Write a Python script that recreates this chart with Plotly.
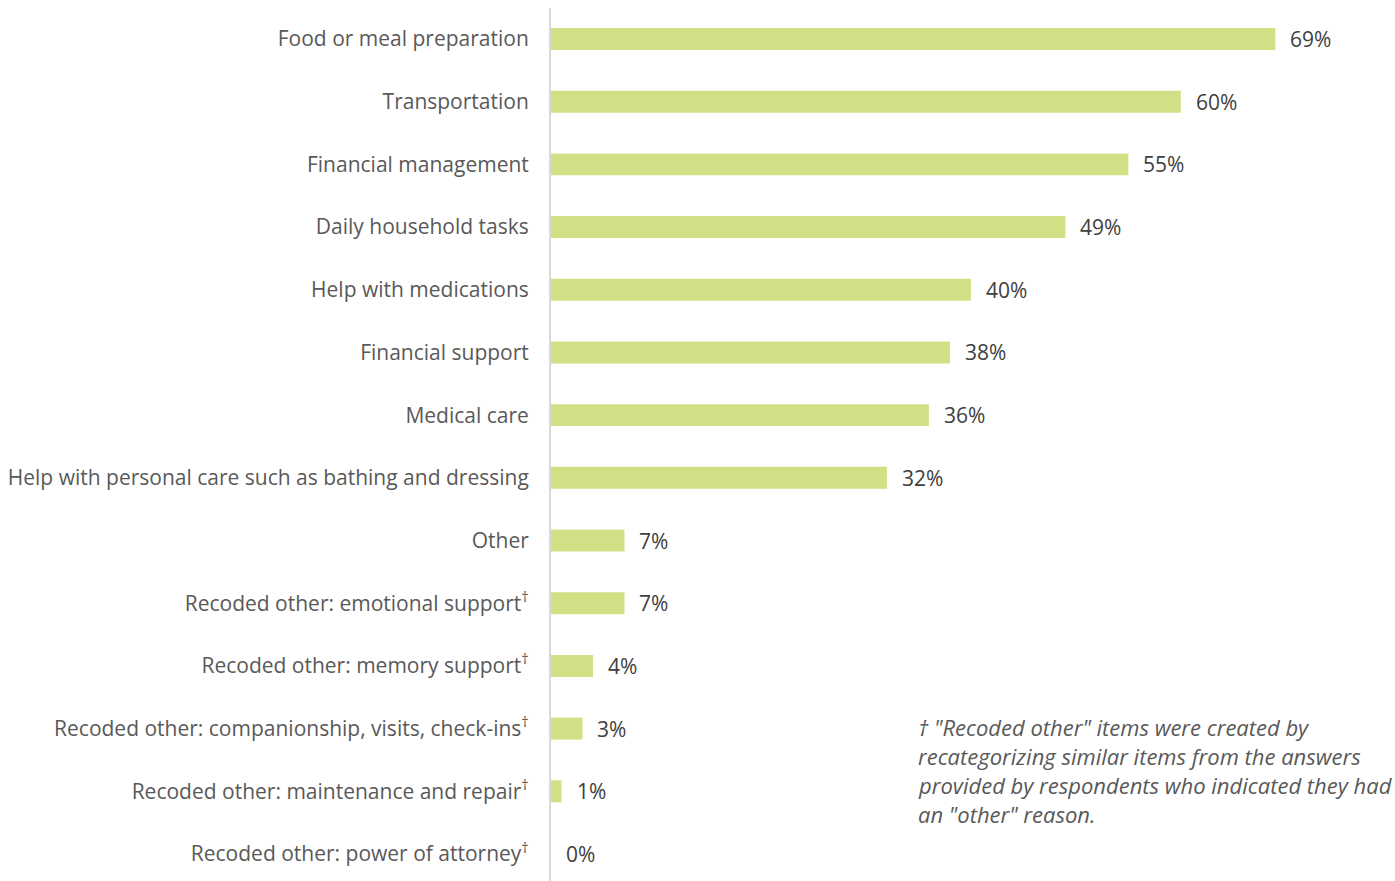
import plotly.graph_objects as go

categories = [
    "Food or meal preparation",
    "Transportation",
    "Financial management",
    "Daily household tasks",
    "Help with medications",
    "Financial support",
    "Medical care",
    "Help with personal care such as bathing and dressing",
    "Other",
    "Recoded other: emotional support<sup>†</sup>",
    "Recoded other: memory support<sup>†</sup>",
    "Recoded other: companionship, visits, check-ins<sup>†</sup>",
    "Recoded other: maintenance and repair<sup>†</sup>",
    "Recoded other: power of attorney<sup>†</sup>",
]
values = [69, 60, 55, 49, 40, 38, 36, 32, 7, 7, 4, 3, 1, 0]

footnote_lines = [
    "† \"Recoded other\" items were created by",
    "recategorizing similar items from the answers",
    "provided by respondents who indicated they had",
    "an \"other\" reason.",
]

FONT = "Open Sans"
positions = list(range(len(categories)))

# plot area in pixels
LEFT, TOP, W, H = 551, 8, 1395, 881
plot_w = W - LEFT
plot_h = H - TOP

fig = go.Figure(
    go.Bar(
        x=values,
        y=positions,
        orientation="h",
        marker=dict(color="#cfe184", line=dict(width=0)),
        width=0.35,
        hoverinfo="skip",
    )
)

# value labels just past each bar end
for pos, val in zip(positions, values):
    fig.add_annotation(
        x=val, y=pos, xref="x", yref="y",
        text=f"{val}%", showarrow=False,
        xanchor="left", xshift=13,
        font=dict(family=FONT, size=21, color="#404040"),
    )

# footnote block, one line per annotation for even spacing
for i, line in enumerate(footnote_lines):
    px_x, px_y = 916, 727 + 29 * i
    fig.add_annotation(
        x=(px_x - LEFT) / plot_w, y=1 - (px_y - TOP) / plot_h,
        xref="paper", yref="paper",
        text=f"<i>{line}</i>", showarrow=False,
        xanchor="left", yanchor="middle",
        font=dict(family=FONT, size=22, color="#595959"),
    )

fig.update_layout(
    width=W, height=H,
    margin=dict(l=LEFT, r=0, t=TOP, b=0),
    plot_bgcolor="white", paper_bgcolor="white",
    showlegend=False,
    xaxis=dict(
        range=[0, 80.4], showgrid=False, zeroline=False,
        showticklabels=False, ticks="", showline=False,
    ),
    yaxis=dict(
        range=[13.431, -0.4945],
        tickvals=positions, ticktext=categories,
        showgrid=False, zeroline=False,
        showline=True, linecolor="#d9d9d9", linewidth=2,
        ticks="", ticklabelstandoff=16,
        tickfont=dict(family=FONT, size=21, color="#595959"),
    ),
)

fig.write_html("out.html")
